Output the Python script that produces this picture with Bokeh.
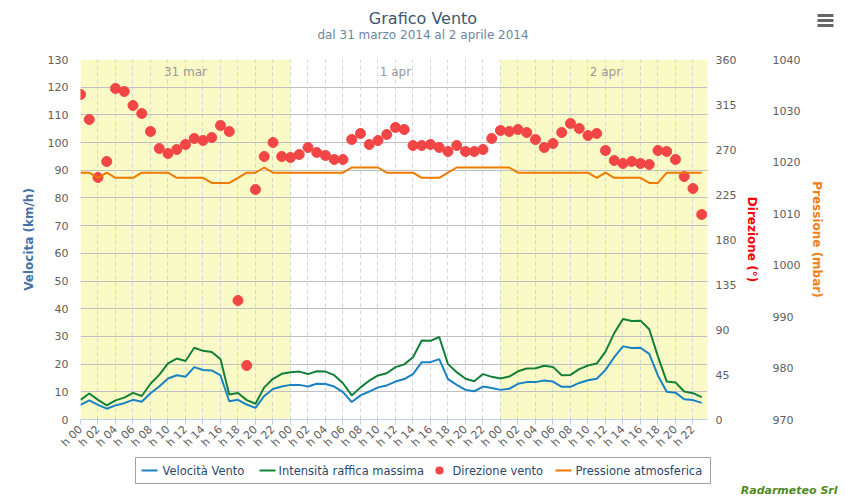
import math
from bokeh.plotting import figure
from bokeh.models import (Range1d, LinearAxis, SingleIntervalTicker, FixedTicker, Label)
from bokeh.core.properties import value
from bokeh.embed import file_html
from bokeh.resources import INLINE

# ---------------- data ----------------
hour_index = list(range(72))
day_names = ["31 mar", "1 apr", "2 apr"]
day_centers = [12, 36, 60]
band_left = [0, 48]
band_right = [24, 72]
tick_positions = list(range(0, 72, 2))
tick_labels = ["h 00", "h 02", "h 04", "h 06", "h 08", "h 10",
               "h 12", "h 14", "h 16", "h 18", "h 20", "h 22"] * 3
series_names = ["Velocità Vento", "Intensità raffica massima",
                "Direzione vento", "Pressione atmosferica"]

speed = [5.3, 6.9, 5.3, 3.9, 5.1, 5.9, 7.1, 6.4, 9.5, 11.9, 14.8, 16.0,
         15.4, 18.9, 17.9, 17.7, 15.9, 6.6, 7.1, 5.4, 4.2, 8.5, 11.0, 11.9,
         12.5, 12.5, 11.9, 12.9, 12.8, 11.9, 9.9, 6.3, 8.7, 10.1, 11.6, 12.3,
         13.7, 14.6, 16.4, 20.7, 20.7, 21.8, 14.6, 12.5, 10.7, 10.2, 11.9, 11.4,
         10.7, 11.1, 12.9, 13.5, 13.5, 14.1, 13.7, 11.8, 11.8, 13.2, 14.2, 14.7,
         17.9, 22.5, 26.4, 25.8, 25.9, 23.7, 15.8, 10.0, 9.7, 7.3, 7.0, 6.0]

gust = [7.1, 9.4, 7.1, 5.1, 6.9, 7.9, 9.6, 8.5, 12.9, 16.1, 20.3, 22.0,
        21.1, 25.9, 24.8, 24.4, 21.8, 9.0, 9.6, 7.0, 5.7, 11.6, 14.7, 16.5,
        17.1, 17.3, 16.4, 17.4, 17.3, 16.0, 13.1, 8.7, 11.6, 14.0, 15.9, 16.7,
        18.9, 19.9, 22.5, 28.5, 28.4, 29.8, 20.0, 17.1, 14.7, 13.8, 16.4, 15.4,
        14.8, 15.5, 17.4, 18.4, 18.5, 19.4, 19.0, 16.0, 16.1, 18.2, 19.5, 20.2,
        24.5, 31.2, 36.3, 35.6, 35.7, 32.6, 22.7, 13.7, 13.4, 10.1, 9.5, 8.1]

direction = [325, 300, 242, 258, 331, 328, 314, 306, 288, 271, 266, 270,
             275, 281, 279, 282, 294, 288, 119, 54, 230, 263, 277, 263,
             262, 265, 272, 267, 264, 260, 260, 280, 286, 275, 279, 285,
             292, 290, 274, 274, 275, 272, 268, 274, 268, 268, 270, 281,
             289, 288, 290, 287, 280, 272, 276, 287, 296, 291, 284, 286,
             269, 259, 256, 258, 256, 255, 269, 268, 260, 243, 231, 205]

pressure = [1018, 1018, 1017, 1018, 1017, 1017, 1017, 1018, 1018, 1018, 1018, 1017,
            1017, 1017, 1017, 1016, 1016, 1016, 1017, 1018, 1018, 1019, 1018, 1018,
            1018, 1018, 1018, 1018, 1018, 1018, 1018, 1019, 1019, 1019, 1019, 1018,
            1018, 1018, 1018, 1017, 1017, 1017, 1018, 1019, 1019, 1019, 1019, 1019,
            1019, 1019, 1018, 1018, 1018, 1018, 1018, 1018, 1018, 1018, 1018, 1017,
            1018, 1017, 1017, 1017, 1017, 1016, 1016, 1018, 1018, 1018, 1018, 1018]

FONT = "DejaVu Sans"
C_SPEED = "#1a82c4"
C_GUST = "#13803a"
C_DIR = "#f24646"
C_PRES = "#ef7a00"

# ---------------- figure ----------------
p = figure(width=845, height=499, frame_width=627, frame_height=360,
           output_backend="svg", toolbar_location=None,
           x_range=Range1d(0, 71.66), y_range=Range1d(0, 130),
           min_border_left=80, min_border_right=138, min_border_top=59,
           min_border_bottom=80)
p.title.visible = False
p.outline_line_color = None
p.background_fill_color = "white"
p.border_fill_color = "white"

# page-pixel helper ranges for decorations placed outside the frame
p.extra_x_ranges = {"px": Range1d(80, 707)}
p.extra_y_ranges = {"dir": Range1d(0, 360), "pres": Range1d(970, 1040),
                    "px": Range1d(419, 59)}

# yellow day bands
p.quad(left=band_left, right=band_right, bottom=0, top=130,
       fill_color="#fafac6", line_color=None, level="image")

# grids
p.ygrid.ticker = SingleIntervalTicker(interval=10)
p.ygrid.grid_line_color = "#c0c0c0"
p.xgrid.ticker = FixedTicker(ticks=tick_positions)
p.xgrid.grid_line_color = "#d6d6d6"
p.xgrid.grid_line_dash = "4 3"

# x axis
xa = p.xaxis[0]
xa.ticker = FixedTicker(ticks=tick_positions)
xa.major_label_overrides = {t: l for t, l in zip(tick_positions, tick_labels)}
xa.major_label_orientation = math.pi / 4
xa.axis_line_color = "#c0d0e0"
xa.major_tick_line_color = "#c0d0e0"
xa.major_tick_out = 5
xa.major_tick_in = 0
xa.minor_tick_line_color = None
xa.major_label_text_font = FONT
xa.major_label_text_font_size = "11px"
xa.major_label_text_color = "#606060"
xa.major_label_standoff = 3

# left axis
ya = p.yaxis[0]
ya.ticker = SingleIntervalTicker(interval=10)
ya.axis_label = "Velocita (km/h)"
ya.axis_label_text_color = "#4572a7"
ya.axis_label_text_font = FONT
ya.axis_label_text_font_style = "bold"
ya.axis_label_text_font_size = "12px"
ya.axis_label_standoff = 9
ya.axis_line_color = None
ya.major_tick_line_color = None
ya.minor_tick_line_color = None
ya.major_tick_out = 0
ya.major_tick_in = 0
ya.major_label_standoff = 8
ya.major_label_text_font = FONT
ya.major_label_text_font_size = "11px"
ya.major_label_text_color = "#606060"

# right axes
def style_right(ax, title, color, lstand, tstand):
    ax.axis_label = title
    ax.axis_label_text_color = color
    ax.axis_label_text_font = FONT
    ax.axis_label_text_font_style = "bold"
    ax.axis_label_text_font_size = "12px"
    ax.axis_label_standoff = tstand
    ax.axis_line_color = None
    ax.major_tick_line_color = None
    ax.minor_tick_line_color = None
    ax.major_tick_out = 0
    ax.major_tick_in = 0
    ax.major_label_standoff = lstand
    ax.major_label_text_font = FONT
    ax.major_label_text_font_size = "11px"
    ax.major_label_text_color = "#606060"

ax_dir = LinearAxis(y_range_name="dir", ticker=SingleIntervalTicker(interval=45))
style_right(ax_dir, "Direzione (°)", "#ff0000", 4, 6)
p.add_layout(ax_dir, "right")
ax_pres = LinearAxis(y_range_name="pres", ticker=SingleIntervalTicker(interval=10))
style_right(ax_pres, "Pressione (mbar)", "#f08018", 6, 7)
p.add_layout(ax_pres, "right")

# series
r_speed = p.line(hour_index, speed, line_color=C_SPEED, line_width=2)
r_gust = p.line(hour_index, gust, line_color=C_GUST, line_width=2)
r_dir = p.scatter(hour_index, direction, y_range_name="dir", size=10,
                  fill_color=C_DIR, line_color=C_DIR)
r_pres = p.line(hour_index, pressure, y_range_name="pres", line_color=C_PRES,
                line_width=2)

# day labels
for name, c in zip(day_names, day_centers):
    p.add_layout(Label(x=c, y=348, y_units="screen", text=name,
                       text_align="center", text_baseline="middle",
                       text_font=FONT, text_font_size="12px",
                       text_color="#999999"))

# ---- decorations outside the frame (page-pixel helper ranges, overlay level) ----
OV = dict(x_range_name="px", y_range_name="px", level="overlay")

# title and subtitle
p.text(x=[422.5], y=[18], text=["Grafico Vento"], text_align="center",
       text_baseline="middle", text_font=value(FONT), text_font_size="16px",
       text_color="#3e576f", **OV)
p.text(x=[422.5], y=[34], text=["dal 31 marzo 2014 al 2 aprile 2014"],
       text_align="center", text_baseline="middle", text_font=value(FONT),
       text_font_size="12px", text_color="#6d869f", **OV)

# export-menu icon
p.segment(x0=[817, 817, 817], y0=[15, 20, 25], x1=[833, 833, 833], y1=[15, 20, 25],
          line_color="#666666", line_width=3, **OV)

# legend box with the four series keys
p.quad(left=[135], right=[710], top=[457], bottom=[483], fill_color="white",
       line_color="#a0a0a0", line_width=1, **OV)
p.segment(x0=[141, 259, 555], x1=[157, 275, 571], y0=[470, 470, 470],
          y1=[470, 470, 470], line_color=[C_SPEED, C_GUST, C_PRES], line_width=2, **OV)
# round key for the direction series (a zero-length round-capped stroke)
p.segment(x0=[438.9], x1=[439.1], y0=[470], y1=[470], line_color=C_DIR,
          line_width=8, line_cap="round", **OV)
p.text(x=[162, 278, 452, 575], y=[470, 470, 470, 470], text=series_names,
       text_align="left", text_baseline="middle", text_font=value(FONT),
       text_font_size="11.5px", text_color="#2b4a6b", **OV)

# credits
p.text(x=[837], y=[490], text=["Radarmeteo Srl"], text_align="right",
       text_baseline="middle", text_font=value(FONT), text_font_size="11px",
       text_font_style="bold italic", text_color="#4f8a1e", **OV)

open("out.html", "w").write(file_html(p, INLINE))
